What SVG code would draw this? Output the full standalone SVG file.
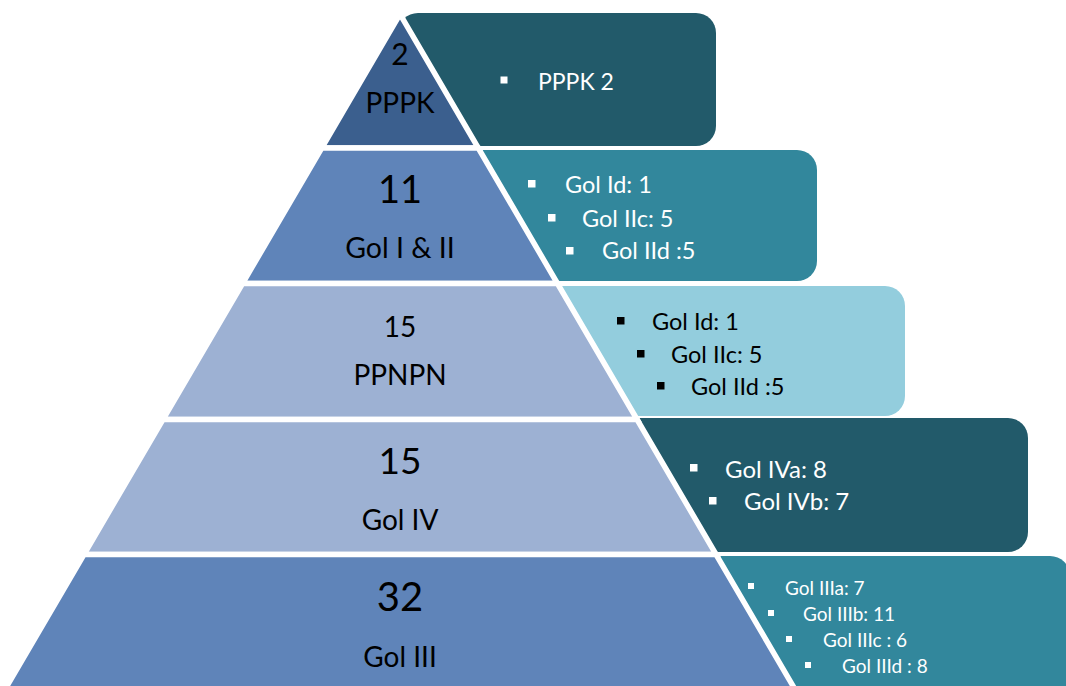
<svg xmlns="http://www.w3.org/2000/svg" width="1066" height="686" viewBox="0 0 1066 686">
  <style>
    .lvl { stroke: #FFFFFF; stroke-width: 5.5; stroke-linejoin: miter; stroke-miterlimit: 8; }
    .pt { font-family: Lato, "Liberation Sans", sans-serif; fill: #000000; text-anchor: middle; }
    .bt { font-family: Lato, "Liberation Sans", sans-serif; fill: #FFFFFF; }
    .dk { fill: #000000; }
    .bk { fill: #000000; }
    .bw { fill: #FFFFFF; }
  </style>
  <rect width="1066" height="686" fill="#FFFFFF"/>

  <g id="box1">
    <rect x="398" y="13" width="318" height="133" rx="20" fill="#225A6A"/>
    <rect class="bw" x="500.5" y="76.5" width="7" height="7"/>
    <text class="bt" x="538" y="90" font-size="23">PPPK 2</text>
  </g>
  <g id="box2">
    <rect x="440" y="150" width="377" height="131" rx="20" fill="#32879C"/>
    <rect class="bw" x="528" y="180" width="7.5" height="7.5"/>
    <rect class="bw" x="548" y="214" width="7.5" height="7.5"/>
    <rect class="bw" x="566" y="247" width="7.5" height="7.5"/>
    <text class="bt" x="565" y="193" font-size="23.5">Gol Id: 1</text>
    <text class="bt" x="582" y="227" font-size="23.5">Gol IIc: 5</text>
    <text class="bt" x="602" y="259" font-size="23.5">Gol IId :5</text>
  </g>
  <g id="box3">
    <rect x="520" y="286" width="385" height="130" rx="20" fill="#93CDDD"/>
    <rect class="bk" x="617" y="317" width="7.5" height="7.5"/>
    <rect class="bk" x="637" y="350" width="7.5" height="7.5"/>
    <rect class="bk" x="657" y="382" width="7.5" height="7.5"/>
    <text class="bt dk" x="652" y="330" font-size="23.5">Gol Id: 1</text>
    <text class="bt dk" x="671" y="363" font-size="23.5">Gol IIc: 5</text>
    <text class="bt dk" x="691" y="395" font-size="23.5">Gol IId :5</text>
  </g>
  <g id="box4">
    <rect x="600" y="418" width="428" height="134" rx="20" fill="#225A6A"/>
    <rect class="bw" x="690" y="464" width="7.5" height="7.5"/>
    <rect class="bw" x="709" y="497" width="7.5" height="7.5"/>
    <text class="bt" x="725" y="478" font-size="24">Gol IVa: 8</text>
    <text class="bt" x="744" y="510" font-size="24">Gol IVb: 7</text>
  </g>
  <g id="box5">
    <rect x="680" y="556" width="390" height="150" rx="20" fill="#32879C"/>
    <rect class="bw" x="748" y="583" width="6" height="6"/>
    <rect class="bw" x="768" y="610" width="6" height="6"/>
    <rect class="bw" x="786" y="636" width="6" height="6"/>
    <rect class="bw" x="805" y="662" width="6" height="6"/>
    <text class="bt" x="785" y="595" font-size="19">Gol IIIa: 7</text>
    <text class="bt" x="803" y="621" font-size="19">Gol IIIb: 11</text>
    <text class="bt" x="823" y="647" font-size="19">Gol IIIc : 6</text>
    <text class="bt" x="842" y="673" font-size="19">Gol IIId : 8</text>
  </g>

  <g id="level1">
    <polygon class="lvl" points="400,14.2 478.3,148 321.7,148" fill="#3B5F8E"/>
    <text class="pt" x="400" y="65" font-size="30">2</text>
    <text class="pt" x="400" y="113" font-size="28">PPPK</text>
  </g>
  <g id="level2">
    <polygon class="lvl" points="321.7,148 478.3,148 557.5,283.5 242.5,283.5" fill="#5F84B9"/>
    <text class="pt" x="400" y="203" font-size="38">11</text>
    <text class="pt" x="400" y="258" font-size="28.5">Gol I &amp; II</text>
  </g>
  <g id="level3">
    <polygon class="lvl" points="242.5,283.5 557.5,283.5 637.1,419.5 162.9,419.5" fill="#9DB1D3"/>
    <text class="pt" x="400" y="337" font-size="28">15</text>
    <text class="pt" x="400" y="385" font-size="28">PPNPN</text>
  </g>
  <g id="level4">
    <polygon class="lvl" points="162.9,419.5 637.1,419.5 716.1,554.5 83.9,554.5" fill="#9DB1D3"/>
    <text class="pt" x="400" y="474" font-size="37">15</text>
    <text class="pt" x="400" y="530" font-size="28">Gol IV</text>
  </g>
  <g id="level5">
    <polygon class="lvl" points="83.9,554.5 716.1,554.5 801.2,700 -1.2,700" fill="#5F84B9"/>
    <text class="pt" x="400" y="611" font-size="40">32</text>
    <text class="pt" x="400" y="667" font-size="28">Gol III</text>
  </g>

  <g id="connectors"></g>
</svg>
